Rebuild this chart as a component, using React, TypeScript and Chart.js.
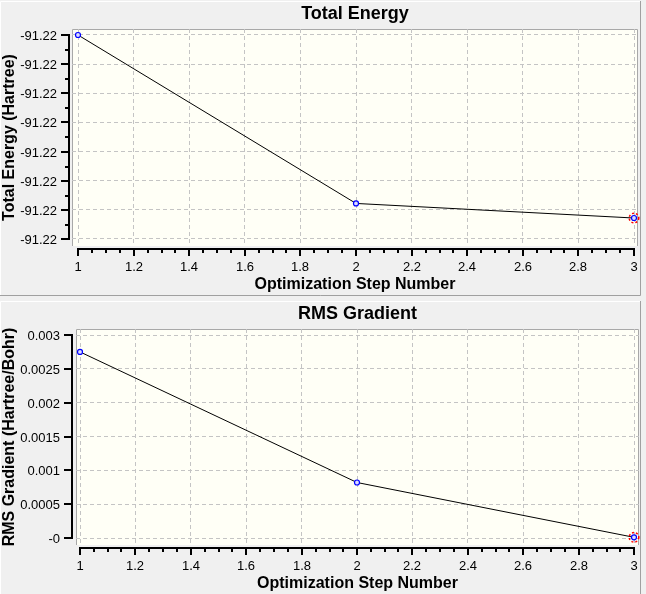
import { useEffect, useRef } from 'react'
import { Chart, ChartConfiguration, Plugin, registerables } from 'chart.js'

Chart.register(...registerables)

// optimisation steps and the two traced quantities
const steps = [1, 2, 3]
const totalEnergy = [-91.2195, -91.22239, -91.22264]
const rmsGradient = [0.00275, 0.00082, 0.00001]

const stepTicks = [1, 1.2, 1.4, 1.6, 1.8, 2, 2.2, 2.4, 2.6, 2.8, 3]
const stepTickLabels = ['1', '1.2', '1.4', '1.6', '1.8', '2', '2.2', '2.4', '2.6', '2.8', '3']

const energyTicks = [-91.2195, -91.22, -91.2205, -91.221, -91.2215, -91.222, -91.2225, -91.223]
const energyTickLabels = ['-91.22', '-91.22', '-91.22', '-91.22', '-91.22', '-91.22', '-91.22', '-91.22']

const gradientTicks = [0.003, 0.0025, 0.002, 0.0015, 0.001, 0.0005, 0]
const gradientTickLabels = ['0.003', '0.0025', '0.002', '0.0015', '0.001', '0.0005', '-0']

const FONT = '"Liberation Sans", Arial, Helvetica, sans-serif'
const WIDTH = 646

interface Box {
  left: number
  right: number
  top: number
  bottom: number
}

interface PanelProps {
  top: number
  height: number
  title: string
  yTitle: string
  yValues: number[]
  yTicks: number[]
  yTickLabels: string[]
  yMinor: number
  area: Box
  inset: Box
  yAxisGap: number
  frame: { top: number; bottom: number; right: number }
}

// value bounds so that the outer ticks sit `padLo` / `padHi` pixels inside the plot area
function bounds(lo: number, hi: number, spanPx: number, padLo: number, padHi: number) {
  const u = (hi - lo) / (spanPx - padLo - padHi)
  return { min: lo - padLo * u, max: hi + padHi * u }
}

function GaussPanel({
  top,
  height,
  title,
  yTitle,
  yValues,
  yTicks,
  yTickLabels,
  yMinor,
  area,
  inset,
  yAxisGap,
  frame,
}: PanelProps) {
  const canvasRef = useRef<HTMLCanvasElement>(null)

  useEffect(() => {
    if (!canvasRef.current) return
    const ctx = canvasRef.current.getContext('2d')
    if (!ctx) return

    const xb = bounds(stepTicks[0], stepTicks[stepTicks.length - 1], area.right - area.left, inset.left, inset.right)
    const yb = bounds(Math.min(...yTicks), Math.max(...yTicks), area.bottom - area.top, inset.bottom, inset.top)

    const line = (x1: number, y1: number, x2: number, y2: number) => {
      ctx.beginPath()
      ctx.moveTo(x1, y1)
      ctx.lineTo(x2, y2)
      ctx.stroke()
    }

    const framePlugin: Plugin<'line'> = {
      id: 'gaussFrame',
      beforeDraw(chart) {
        const a = chart.chartArea
        ctx.save()
        ctx.fillStyle = '#f0f0f0'
        ctx.fillRect(0, 0, chart.width, chart.height)
        ctx.lineWidth = 1
        ctx.strokeStyle = '#ffffff'
        ctx.beginPath()
        ctx.moveTo(0.5, frame.bottom)
        ctx.lineTo(0.5, frame.top + 0.5)
        ctx.lineTo(frame.right, frame.top + 0.5)
        ctx.stroke()
        ctx.strokeStyle = '#a0a0a0'
        ctx.beginPath()
        ctx.moveTo(frame.right + 0.5, frame.top)
        ctx.lineTo(frame.right + 0.5, frame.bottom + 0.5)
        ctx.lineTo(0, frame.bottom + 0.5)
        ctx.stroke()
        // plot area
        ctx.fillStyle = '#fffff6'
        ctx.fillRect(a.left, a.top, a.right - a.left, a.bottom - a.top)
        ctx.strokeStyle = '#a8a8a8'
        ctx.beginPath()
        ctx.moveTo(a.left + 0.5, a.bottom)
        ctx.lineTo(a.left + 0.5, a.top + 0.5)
        ctx.lineTo(a.right - 0.5, a.top + 0.5)
        ctx.lineTo(a.right - 0.5, a.bottom)
        ctx.stroke()
        ctx.restore()
      },
      afterDatasetsDraw(chart) {
        // current step marker
        const meta = chart.getDatasetMeta(0)
        const el = meta.data[meta.data.length - 1]
        if (!el) return
        ctx.save()
        ctx.strokeStyle = '#ff0000'
        ctx.lineWidth = 1.5
        ctx.setLineDash([2, 2])
        ctx.beginPath()
        ctx.arc(el.x, el.y, 4.8, 0, Math.PI * 2)
        ctx.stroke()
        ctx.restore()
      },
      afterDraw(chart) {
        const a = chart.chartArea
        const xs = chart.scales.x
        const ys = chart.scales.y
        const cx = (a.left + a.right) / 2
        ctx.save()
        ctx.strokeStyle = '#000'
        ctx.fillStyle = '#000'
        ctx.lineWidth = 2

        // y axis, detached from the plot area
        const ax = Math.round(a.left - yAxisGap)
        const yPix = yTicks.map((v) => Math.round(ys.getPixelForValue(v)))
        line(ax, Math.min(...yPix) - 1, ax, Math.max(...yPix) + 1)
        yPix.forEach((p, i) => {
          line(ax - 8, p, ax, p)
          if (i < yPix.length - 1) {
            for (let k = 1; k < yMinor; k++) {
              const q = Math.round(p + ((yPix[i + 1] - p) * k) / yMinor)
              line(ax - 4, q, ax, q)
            }
          }
        })

        // x axis
        const ay = Math.round(a.bottom + 3)
        const xPix = stepTicks.map((v) => Math.round(xs.getPixelForValue(v)))
        line(xPix[0] - 1, ay, xPix[xPix.length - 1] + 1, ay)
        xPix.forEach((p, i) => {
          line(p, ay, p, ay + 7)
          if (i < xPix.length - 1) {
            for (let k = 1; k < 4; k++) {
              const q = Math.round(p + ((xPix[i + 1] - p) * k) / 4)
              line(q, ay, q, ay + 4)
            }
          }
        })

        // tick labels
        ctx.font = `13px ${FONT}`
        ctx.textBaseline = 'alphabetic'
        ctx.textAlign = 'right'
        yPix.forEach((p, i) => ctx.fillText(yTickLabels[i], ax - 12, p + 5))
        ctx.textAlign = 'center'
        xPix.forEach((p, i) => ctx.fillText(stepTickLabels[i], p, a.bottom + 25))

        // titles
        ctx.font = `bold 18px ${FONT}`
        ctx.fillText(title, cx, a.top - 10)
        ctx.font = `bold 16px ${FONT}`
        ctx.fillText('Optimization Step Number', cx, a.bottom + 43)
        ctx.translate(10, (a.top + a.bottom) / 2)
        ctx.rotate(-Math.PI / 2)
        ctx.textBaseline = 'middle'
        ctx.fillText(yTitle, 0, 0)
        ctx.restore()
      },
    }

    const config: ChartConfiguration<'line'> = {
      type: 'line',
      data: {
        datasets: [
          {
            data: steps.map((x, i) => ({ x, y: yValues[i] })),
            borderColor: '#000000',
            borderWidth: 1,
            tension: 0,
            pointRadius: 2.5,
            pointBorderWidth: 1.2,
            pointBorderColor: '#0000ff',
            pointBackgroundColor: '#dcdcff',
          },
        ],
      },
      options: {
        animation: false,
        responsive: false,
        events: [],
        layout: {
          padding: {
            left: area.left,
            right: WIDTH - area.right,
            top: area.top,
            bottom: height - area.bottom,
          },
        },
        plugins: {
          legend: { display: false },
          tooltip: { enabled: false },
        },
        scales: {
          x: {
            type: 'linear',
            min: xb.min,
            max: xb.max,
            afterBuildTicks: (axis) => {
              axis.ticks = stepTicks.map((value) => ({ value }))
            },
            ticks: { display: false },
            grid: { color: '#c4c4c4', lineWidth: 1, drawTicks: false },
            border: { display: false, dash: [4, 3] },
          },
          y: {
            type: 'linear',
            min: yb.min,
            max: yb.max,
            afterBuildTicks: (axis) => {
              axis.ticks = yTicks.map((value) => ({ value }))
            },
            ticks: { display: false },
            grid: { color: '#c4c4c4', lineWidth: 1, drawTicks: false },
            border: { display: false, dash: [4, 3] },
          },
        },
      },
      plugins: [framePlugin],
    }

    const chart = new Chart(ctx, config)
    return () => {
      chart.destroy()
    }
  }, [title, yTitle, yValues, yTicks, yTickLabels, yMinor, area, inset, yAxisGap, frame, height])

  return (
    <canvas
      ref={canvasRef}
      width={WIDTH}
      height={height}
      style={{ position: 'absolute', left: 0, top, width: WIDTH, height, display: 'block' }}
    />
  )
}

const topArea = { left: 72, right: 638, top: 29, bottom: 246 }
const topInset = { left: 6, right: 4, top: 6, bottom: 7 }
const bottomArea = { left: 76, right: 639, top: 31, bottom: 247 }
const bottomInset = { left: 4, right: 5, top: 6, bottom: 7 }

export default function App() {
  return (
    <div
      style={{
        position: 'fixed',
        left: 0,
        top: 0,
        width: WIDTH,
        height: 594,
        background: '#f0f0f0',
        overflow: 'hidden',
      }}
    >
      <GaussPanel
        top={0}
        height={298}
        title="Total Energy"
        yTitle="Total Energy (Hartree)"
        yValues={totalEnergy}
        yTicks={energyTicks}
        yTickLabels={energyTickLabels}
        yMinor={2}
        area={topArea}
        inset={topInset}
        yAxisGap={3}
        frame={{ top: 1, bottom: 295, right: 640 }}
      />
      <GaussPanel
        top={298}
        height={296}
        title="RMS Gradient"
        yTitle="RMS Gradient (Hartree/Bohr)"
        yValues={rmsGradient}
        yTicks={gradientTicks}
        yTickLabels={gradientTickLabels}
        yMinor={1}
        area={bottomArea}
        inset={bottomInset}
        yAxisGap={4}
        frame={{ top: 3, bottom: 400, right: 640 }}
      />
    </div>
  )
}
